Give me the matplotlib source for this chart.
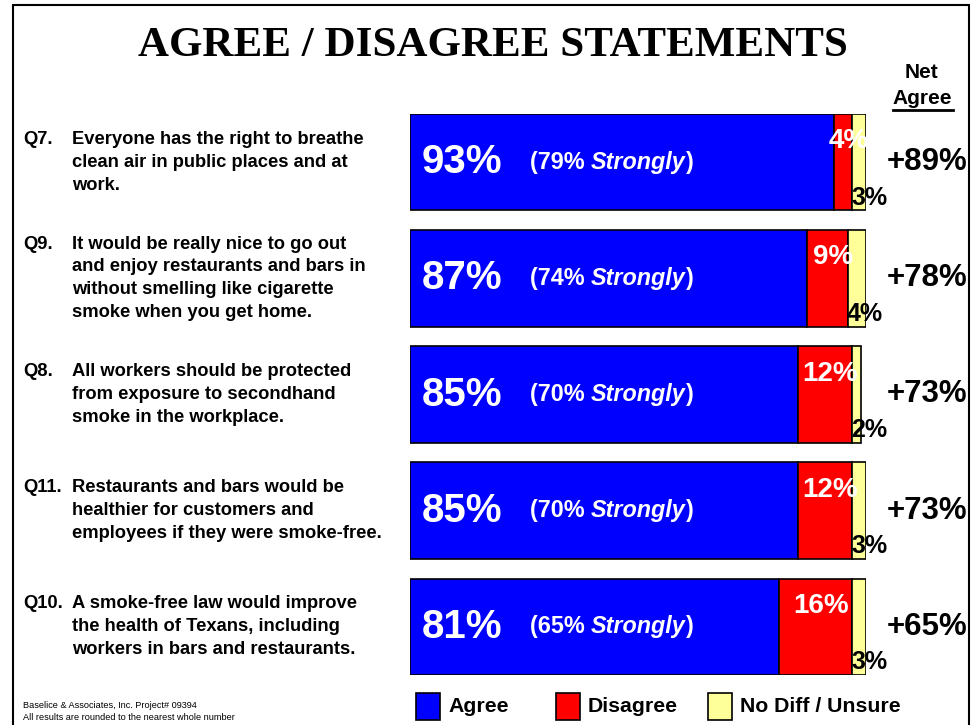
import numpy as np
import matplotlib.pyplot as plt
from matplotlib.patches import Rectangle
from matplotlib.transforms import blended_transform_factory

plt.rcParams['font.family'] = ['Liberation Sans', 'DejaVu Sans']

# survey results, top to bottom
qnums = ["Q7.", "Q9.", "Q8.", "Q11.", "Q10."]
questions = [
    "Everyone has the right to breathe\nclean air in public places and at\nwork.",
    "It would be really nice to go out\nand enjoy restaurants and bars in\nwithout smelling like cigarette\nsmoke when you get home.",
    "All workers should be protected\nfrom exposure to secondhand\nsmoke in the workplace.",
    "Restaurants and bars would be\nhealthier for customers and\nemployees if they were smoke-free.",
    "A smoke-free law would improve\nthe health of Texans, including\nworkers in bars and restaurants.",
]
agree = [93, 87, 85, 85, 81]
strongly = [79, 74, 70, 70, 65]
disagree = [4, 9, 12, 12, 16]
unsure = [3, 4, 2, 3, 3]
net_agree = [89, 78, 73, 73, 65]

colors = {"agree": "#0000ff", "disagree": "#ff0000", "unsure": "#ffff99"}

W, H = 977, 725
fig = plt.figure(figsize=(W / 100, H / 100), dpi=100)

def px(x, y):
    # pixel position (from top-left) -> figure fraction
    return x / W, 1 - y / H

# outer frame
fig.patches.append(Rectangle((12.5 / W, -0.05), (969 - 12.5) / W, 1.05 - 5 / H,
                             transform=fig.transFigure, fill=False,
                             edgecolor="black", linewidth=1.5))

fig.text(*px(493, 46), "AGREE / DISAGREE STATEMENTS", family="Liberation Serif",
         fontweight="bold", fontsize=31, ha="center", va="center")
fig.text(*px(922, 73), "Net", fontweight="bold", fontsize=15, ha="center", va="center")
fig.text(*px(922, 99), "Agree", fontweight="bold", fontsize=15, ha="center", va="center")
fig.lines.append(plt.Line2D([893 / W, 953 / W], [1 - 110 / H] * 2,
                            transform=fig.transFigure, color="black", linewidth=2))

# bar area: 0-100% spans pixels 410-866
ax = fig.add_axes([410 / W, 1 - 675 / H, 456 / W, (675 - 114) / H])
ax.set_xlim(0, 100)
hgt = 0.83
ypos = np.arange(len(agree)) * 1.0
ax.set_ylim(ypos[-1] + hgt / 2, ypos[0] - hgt / 2)
ax.axis("off")

left = np.array(agree)
ax.barh(ypos, agree, height=hgt, color=colors["agree"], edgecolor="black", linewidth=1.2)
ax.barh(ypos, disagree, left=left, height=hgt, color=colors["disagree"],
        edgecolor="black", linewidth=1.2)
ax.barh(ypos, unsure, left=left + np.array(disagree), height=hgt, color=colors["unsure"],
        edgecolor="black", linewidth=1.2)

trans_q = blended_transform_factory(fig.transFigure, ax.transData)
for i, y in enumerate(ypos):
    ax.text(11.4, y, f"{agree[i]}%", color="white", fontweight="bold",
            fontsize=29, ha="center", va="center")
    # "(79% Strongly)" with only the word in italics
    t1 = ax.text(26.3, y, f"({strongly[i]}% ", color="white",
                 fontweight="bold", fontsize=16.8, ha="left", va="center")
    t2 = ax.annotate("Strongly", xy=(1, 0), xycoords=t1, va="bottom", ha="left",
                     color="white", fontweight="bold", fontstyle="italic", fontsize=16.8)
    ax.annotate(")", xy=(1, 0), xycoords=t2, va="bottom", ha="left",
                color="white", fontweight="bold", fontsize=16.8)
    ax.text(agree[i] + disagree[i] / 2 + 1.2, y - hgt / 2 + 0.235, f"{disagree[i]}%",
            color="white", fontweight="bold", fontsize=20, ha="center", va="center")
    ax.text(agree[i] + disagree[i] - 0.2, y + hgt / 2 - 0.11, f"{unsure[i]}%",
            color="black", fontweight="bold", fontsize=18, ha="left", va="center",
            clip_on=False)
    ax.text(927 / W, y, f"+{net_agree[i]}%", transform=trans_q, fontweight="bold",
            fontsize=22.5, ha="center", va="center")
    # qnum sits on the first line of the question
    nlines = questions[i].count("\n") + 1
    ax.text(23 / W, y, qnums[i] + "\n" * (nlines - 1), transform=trans_q,
            fontweight="bold", fontsize=13.2, ha="left", va="center", linespacing=1.45)
    ax.text(72 / W, y, questions[i], transform=trans_q, fontweight="bold", fontsize=13.2,
            ha="left", va="center", linespacing=1.45)

# legend
legend_items = [("Agree", colors["agree"], 416), ("Disagree", colors["disagree"], 556),
                ("No Diff / Unsure", colors["unsure"], 708)]
for label, c, x0 in legend_items:
    fig.patches.append(Rectangle((x0 / W, 1 - 720 / H), 24 / W, 27 / H,
                                 transform=fig.transFigure, facecolor=c,
                                 edgecolor="black", linewidth=1.2))
    fig.text(*px(x0 + 32, 707), label, fontweight="bold", fontsize=15.3,
             ha="left", va="center")

fig.text(*px(23, 705), "Baselice & Associates, Inc. Project# 09394", fontsize=6.6,
         ha="left", va="center")
fig.text(*px(23, 718), "All results are rounded to the nearest whole number", fontsize=6.6,
         ha="left", va="center")

fig.savefig("out.png", dpi=100)
